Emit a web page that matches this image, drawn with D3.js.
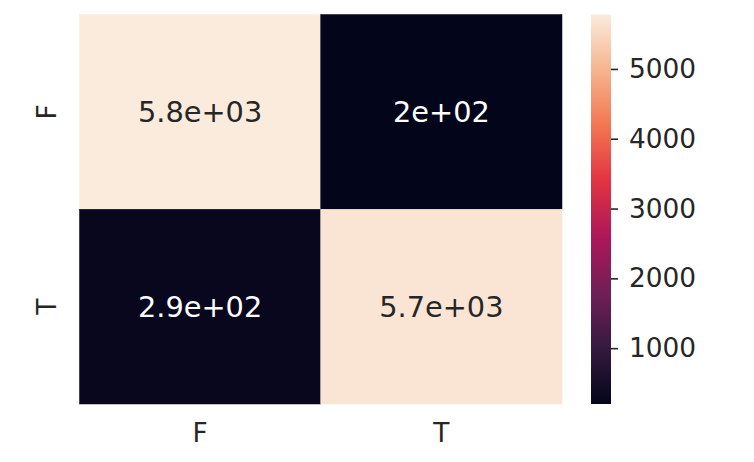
<!DOCTYPE html>
<html>
<head>
<meta charset="utf-8">
<script src="https://cdn.jsdelivr.net/npm/d3@7"></script>
<style>
html, body { margin: 0; padding: 0; background: #ffffff; }
svg text { font-family: "DejaVu Sans", sans-serif; }
</style>
</head>
<body>
<svg id="chart" width="754" height="462"></svg>
<script>
// ---- data ----
const rowLabels = ["F", "T"];
const colLabels = ["F", "T"];
const values = [
  [5780, 200],
  [290, 5700]
];
const cellText = [
  ["5.8e+03", "2e+02"],
  ["2.9e+02", "5.7e+03"]
];
const colorbarTicks = [1000, 2000, 3000, 4000, 5000];

// rocket colormap control points
const rocketStops = [
  [0/7, "#03051a"], [1/7, "#35193e"], [2/7, "#701f57"], [3/7, "#ad1759"],
  [4/7, "#e13342"], [5/7, "#f37651"], [6/7, "#f6b48f"], [7/7, "#faebdd"]
];

const svg = d3.select("#chart");
const tickFont = 26.4;
const annotFont = 28.8;
const textColor = "#262626";

const plot = { left: 79.5, right: 562, top: 14.5, bottom: 404 };
const cbar = { left: 591, right: 611, top: 14.5, bottom: 404 };

const flat = values.flat();
const vmin = d3.min(flat), vmax = d3.max(flat);

const rocket = d3.scaleLinear()
  .domain(rocketStops.map(d => d[0]))
  .range(rocketStops.map(d => d[1]))
  .interpolate(d3.interpolateRgb)
  .clamp(true);
const color = v => rocket((v - vmin) / (vmax - vmin));

const x = d3.scaleBand().domain(colLabels.map((d, i) => i)).range([plot.left, plot.right]);
const y = d3.scaleBand().domain(rowLabels.map((d, i) => i)).range([plot.top, plot.bottom]);

const cells = [];
values.forEach((row, r) => row.forEach((v, c) => cells.push({ r, c, v, t: cellText[r][c] })));

svg.append("g").selectAll("rect").data(cells).join("rect")
  .attr("x", d => x(d.c)).attr("y", d => y(d.r))
  .attr("width", x.bandwidth()).attr("height", y.bandwidth())
  .attr("fill", d => color(d.v))
  .attr("stroke", d => color(d.v)).attr("stroke-width", 0.5);

svg.append("g").selectAll("text").data(cells).join("text")
  .attr("x", d => x(d.c) + x.bandwidth() / 2)
  .attr("y", d => y(d.r) + y.bandwidth() / 2)
  .attr("text-anchor", "middle")
  .attr("dominant-baseline", "central")
  .attr("font-size", annotFont)
  .attr("fill", d => {
    const l = d3.hcl(color(d.v)).l;
    return l > 50 ? textColor : "#ffffff";
  })
  .text(d => d.t);

// axes
const xAxis = svg.append("g")
  .attr("transform", `translate(0,${plot.bottom})`)
  .call(d3.axisBottom(x).tickSize(0).tickPadding(19).tickFormat(i => colLabels[i]));
xAxis.select(".domain").remove();
xAxis.selectAll("text").attr("font-size", tickFont).attr("fill", textColor).attr("font-family", "DejaVu Sans");

const yAxis = svg.append("g")
  .attr("transform", `translate(${plot.left},0)`)
  .call(d3.axisLeft(y).tickSize(0).tickPadding(0).tickFormat(i => rowLabels[i]));
yAxis.select(".domain").remove();
yAxis.selectAll("text")
  .attr("font-size", tickFont).attr("fill", textColor).attr("font-family", "DejaVu Sans")
  .attr("x", null).attr("dy", null)
  .attr("text-anchor", "middle")
  .attr("dominant-baseline", "central")
  .attr("transform", "translate(-33.5,0) rotate(-90)");

// colorbar
const cScale = d3.scaleLinear().domain([vmin, vmax]).range([cbar.bottom, cbar.top]);
const defs = svg.append("defs");
const grad = defs.append("linearGradient").attr("id", "cbgrad")
  .attr("x1", 0).attr("y1", 1).attr("x2", 0).attr("y2", 0);
d3.range(0, 1.0001, 0.02).forEach(t => {
  grad.append("stop").attr("offset", t).attr("stop-color", rocket(t));
});
svg.append("rect")
  .attr("x", cbar.left).attr("y", cbar.top)
  .attr("width", cbar.right - cbar.left).attr("height", cbar.bottom - cbar.top)
  .attr("fill", "url(#cbgrad)");

const cAxis = svg.append("g")
  .attr("transform", `translate(${cbar.right},0)`)
  .call(d3.axisRight(cScale).tickValues(colorbarTicks).tickSize(7).tickPadding(11).tickFormat(d3.format("d")));
cAxis.select(".domain").remove();
cAxis.selectAll("line").attr("stroke", textColor).attr("stroke-width", 1.6);
cAxis.selectAll("text").attr("font-size", tickFont).attr("fill", textColor).attr("font-family", "DejaVu Sans");
</script>
</body>
</html>
